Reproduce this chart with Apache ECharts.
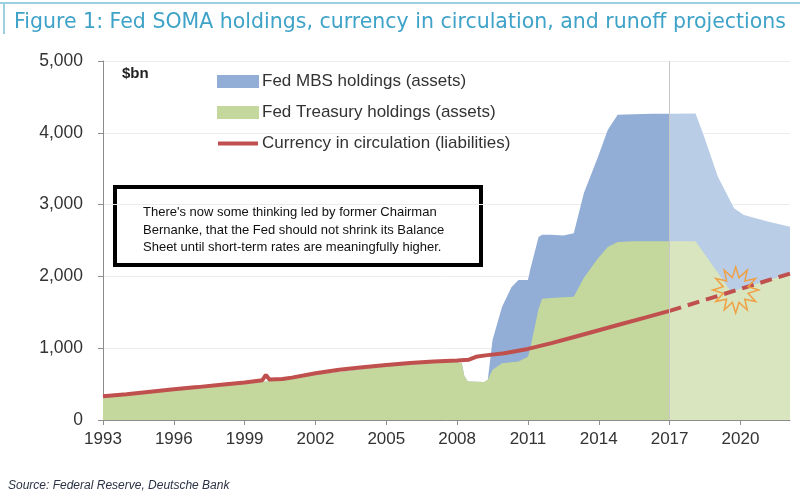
<!DOCTYPE html>
<html>
<head>
    <meta charset="utf-8">
    <title>Fed SOMA holdings</title>
    <script src="https://cdn.jsdelivr.net/npm/echarts@6/dist/echarts.min.js"></script>
    <style>
        html, body { margin: 0; height: 100%; background: #fff; }
        #chart { width: 800px; height: 502px; }
    </style>
</head>
<body>
<div id="chart"></div>
<script type="text/javascript">
    // SOMA holdings in $bn
    var holdYears    = [1993, 1996, 1999, 2000.2, 2002, 2005, 2007, 2008, 2008.2, 2008.3, 2008.45, 2009.15, 2009.3, 2009.5, 2009.9, 2010.3, 2010.6, 2011.0, 2011.1, 2011.45, 2011.6, 2012.0, 2012.5, 2012.94, 2013.37, 2013.96, 2014.38, 2014.8, 2015.5, 2016.3, 2017.0];
    var treasury     = [310, 408, 500, 545, 630, 745, 795, 805, 790, 620, 535, 530, 560, 700, 790, 805, 815, 880, 1000, 1550, 1690, 1700, 1710, 1715, 1980, 2250, 2410, 2480, 2490, 2490, 2490];
    var mbs          = [0, 0, 0, 0, 0, 0, 0, 0, 0, 0, 0, 0, 0, 415, 785, 1045, 1135, 1070, 1100, 1000, 890, 880, 860, 885, 1180, 1410, 1630, 1770, 1770, 1775, 1775];

    // runoff projections
    var projYears    = [2017.0, 2018.1, 2018.45, 2019.05, 2019.6, 2019.73, 2020.15, 2021.2, 2022.1];
    var treasuryProj = [2490, 2490, 2325, 2047, 1785, 1800, 1843, 1950, 2040];
    var mbsProj      = [1775, 1780, 1634, 1337, 1248, 1150, 1012, 810, 650];

    // currency in circulation
    var currYears    = [1993, 1994, 1995, 1996, 1997, 1998, 1999, 1999.75, 1999.9, 2000.05, 2000.6, 2001, 2002, 2003, 2004, 2005, 2006, 2007, 2008, 2008.5, 2008.8, 2009.2, 2010, 2011, 2012, 2013, 2014, 2015, 2016, 2017];
    var currency     = [330, 360, 395, 428, 458, 490, 521, 555, 628, 565, 570, 590, 651, 700, 735, 767, 795, 815, 828, 840, 880, 900, 930, 990, 1070, 1160, 1250, 1340, 1430, 1520];
    var currProjYears = [2017, 2022.1];
    var currencyProj  = [1520, 2040];

    var firstYear = 1993;
    var lastYear = 2022.1;
    var yearStep = 3;
    var projStart = 2017;

    var MBS_NAME = 'Fed MBS holdings (assets)';
    var TSY_NAME = 'Fed Treasury holdings (assets)';
    var CUR_NAME = 'Currency in circulation (liabilities)';

    function pairs(xs, ys) {
        return xs.map(function (x, i) { return [x - firstYear, ys[i]]; });
    }
    function totals(a, b) {
        return a.map(function (v, i) { return v + b[i]; });
    }

    // 12-point burst for the crossover marker
    function burstPath() {
        var pts = [];
        for (var i = 0; i < 24; i++) {
            var r = i % 2 === 0 ? 50 : 28;
            var a = Math.PI * i / 12;
            pts.push((50 + r * Math.sin(a)).toFixed(1) + ',' + (50 - r * Math.cos(a)).toFixed(1));
        }
        return 'path://M' + pts.join(' L') + ' Z';
    }

    var myChart = echarts.init(document.getElementById('chart'));

    myChart.setOption({
        animation: false,
        title: {
            text: 'Figure 1: Fed SOMA holdings, currency in circulation, and runoff projections',
            left: 9,
            top: 7,
            textStyle: {
                fontFamily: 'DejaVu Sans',
                fontSize: 20.5,
                fontWeight: 'normal',
                color: '#3fa2c8'
            }
        },
        legend: {
            orient: 'vertical',
            left: 212,
            top: 68,
            itemWidth: 42,
            itemHeight: 13,
            itemGap: 14,
            textStyle: { fontFamily: 'Liberation Sans', fontSize: 17, color: '#333', padding: [0, 0, 0, -2] },
            data: [
                { name: MBS_NAME, icon: 'rect' },
                { name: TSY_NAME, icon: 'rect' },
                { name: CUR_NAME, icon: 'path://M0,0 M0,4.5 L40,4.5 L40,8.5 L0,8.5 Z M40,13' }
            ]
        },
        grid: { left: 103, right: 10, top: 61, bottom: 82 },
        xAxis: {
            type: 'value',
            min: 0,
            max: lastYear - firstYear,
            interval: yearStep,
            axisLine: { lineStyle: { color: '#8c8c8c' } },
            axisTick: { length: 5, lineStyle: { color: '#8c8c8c' } },
            axisLabel: {
                showMaxLabel: false,
                margin: 11,
                fontFamily: 'Liberation Sans',
                fontSize: 17,
                color: '#333',
                formatter: function (v) { return String(Math.round(v + firstYear)); }
            },
            splitLine: { show: false }
        },
        yAxis: {
            type: 'value',
            min: 0,
            max: 5000,
            interval: 1000,
            axisLine: { show: true, lineStyle: { color: '#8c8c8c' } },
            axisTick: { show: true, length: 5, lineStyle: { color: '#8c8c8c' } },
            axisLabel: {
                margin: 20,
                fontFamily: 'Liberation Sans',
                fontSize: 17.5,
                color: '#333',
                formatter: function (v) { return v.toLocaleString('en-US'); }
            },
            splitLine: { lineStyle: { color: '#ececec' } }
        },
        graphic: [
            { type: 'line', shape: { x1: 0, y1: 3, x2: 800, y2: 3 }, style: { stroke: '#9ccfe0', lineWidth: 2 } },
            { type: 'line', shape: { x1: 4, y1: 3, x2: 4, y2: 34 }, style: { stroke: '#9ccfe0', lineWidth: 2 } },
            {
                type: 'text', left: 122, top: 66,
                style: { text: '$bn', font: 'bold 15px "Liberation Sans"', fill: '#222' }
            },
            {
                type: 'group', left: 113, top: 185,
                children: [
                    { type: 'rect', shape: { x: 0, y: 0, width: 366, height: 78 }, style: { fill: '#fff', stroke: '#000', lineWidth: 4 } },
                    {
                        type: 'text', x: 28, y: 17,
                        style: {
                            text: "There's now some thinking led by former Chairman\nBernanke, that the Fed should not shrink its Balance\nSheet until short-term rates are meaningfully higher.",
                            font: '13px "Liberation Sans"',
                            lineHeight: 17.5,
                            verticalAlign: 'top',
                            fill: '#111'
                        }
                    }
                ]
            },
            {
                type: 'text', left: 8, top: 480,
                style: { text: 'Source: Federal Reserve, Deutsche Bank', font: 'italic 12px "Liberation Sans"', fill: '#2b3245' }
            }
        ],
        series: [
            {
                name: MBS_NAME, type: 'line', symbol: 'none',
                lineStyle: { width: 0 }, itemStyle: { color: '#92aed6' },
                areaStyle: { color: '#92aed6', opacity: 1 },
                data: pairs(holdYears, totals(treasury, mbs)),
                markLine: {
                    silent: true, symbol: 'none', label: { show: false },
                    lineStyle: { color: '#c8c8c8', width: 1, type: 'solid' },
                    data: [{ xAxis: projStart - firstYear }]
                }
            },
            {
                name: MBS_NAME + ' proj', type: 'line', symbol: 'none',
                lineStyle: { width: 0 },
                areaStyle: { color: '#b9cde6', opacity: 1 },
                data: pairs(projYears, totals(treasuryProj, mbsProj))
            },
            {
                name: TSY_NAME, type: 'line', symbol: 'none',
                lineStyle: { width: 0 }, itemStyle: { color: '#c4d79d' },
                areaStyle: { color: '#c4d79d', opacity: 1 },
                data: pairs(holdYears, treasury)
            },
            {
                name: TSY_NAME + ' proj', type: 'line', symbol: 'none',
                lineStyle: { width: 0 },
                areaStyle: { color: '#d8e5bf', opacity: 1 },
                data: pairs(projYears, treasuryProj)
            },
            {
                name: CUR_NAME, type: 'line', symbol: 'none',
                itemStyle: { color: '#c0504d' },
                lineStyle: { color: '#c0504d', width: 4 },
                data: pairs(currYears, currency)
            },
            {
                name: CUR_NAME + ' proj', type: 'line', symbol: 'none',
                lineStyle: { color: '#c0504d', width: 4, type: [12, 7] },
                data: pairs(currProjYears, currencyProj),
                markPoint: {
                    silent: true,
                    symbol: burstPath(),
                    symbolSize: 46,
                    label: { show: false },
                    itemStyle: { color: 'rgba(0,0,0,0)', borderColor: '#f0a045', borderWidth: 1.5 },
                    data: [{ coord: [2019.8 - firstYear, 1810] }]
                }
            }
        ]
    });
</script>
</body>
</html>
